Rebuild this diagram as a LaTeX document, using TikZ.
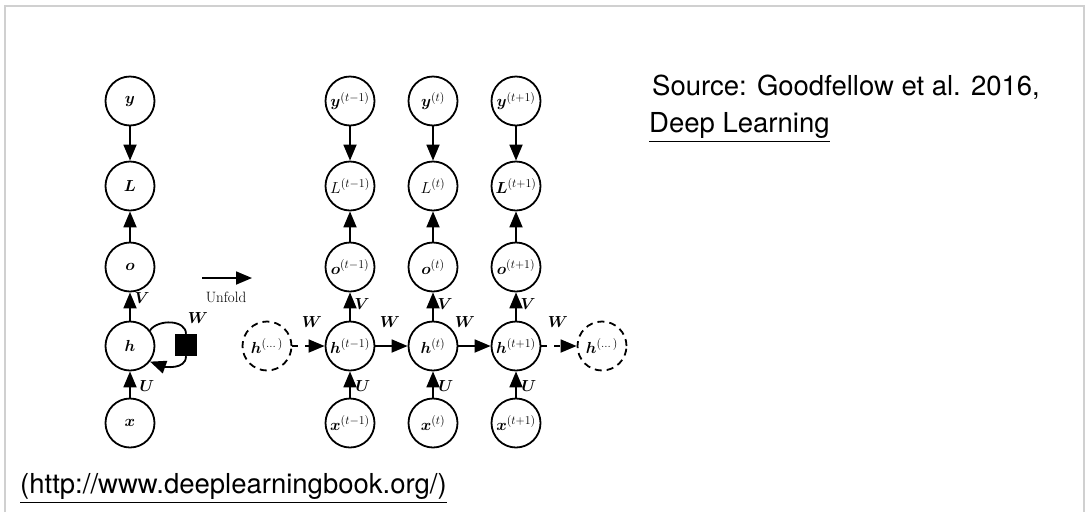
\RequirePackage{fix-cm}
\documentclass[tikz,border=0pt]{standalone}
\usepackage{amsmath,bm}
\usepackage{fontspec}
\newfontfamily\notesans{TeX Gyre Heros}
\usetikzlibrary{arrows.meta}
\DeclareMathSizes{16}{16}{12}{10}

\begin{document}
\begin{tikzpicture}[x=1pt,y=-1pt,
  unit/.style={circle, draw, line width=1.8pt, minimum size=49pt, inner sep=0pt,
               font=\fontsize{16}{18}\selectfont},
  ghost/.style={unit, dash pattern=on 7pt off 5pt},
  link/.style={line width=1.8pt, -{Triangle[length=16pt,width=13pt]}},
  wt/.style={font=\fontsize{16}{18}\selectfont, inner sep=0pt},
  note/.style={font=\notesans\fontsize{27.5}{32}\selectfont, inner sep=0pt, anchor=base west},
]
\useasboundingbox (0,0) rectangle (1086,512);
% open frame
\draw[line width=2pt, color={rgb,255:red,208;green,208;blue,208}]
  (5,512) -- (5,6) -- (1084,6) -- (1084,512);

% folded network
\node[unit] (y)  at (130,101) {$\bm{y}$};
\node[unit] (L)  at (130,186) {$\bm{L}$};
\node[unit] (o)  at (130,267) {$\bm{o}$};
\node[unit] (h)  at (130,346) {$\bm{h}$};
\node[unit] (x)  at (130,423) {$\bm{x}$};
\node[fill=black, minimum size=22pt, inner sep=0pt] (sq) at (186,345) {};

\draw[link] (y) -- (L);
\draw[link] (o) -- (L);
\draw[link] (h) -- (o);
\draw[link] (x) -- (h);
\draw[line width=1.8pt] (h.38) to[out=55,in=90] (sq.north);
\draw[link] (sq.south) to[out=-90,in=-20] (h.-38);
\node[wt] (wloop) at (198,318) {$\bm{W}$};
\node[wt] (vloop) at (142,298) {$\bm{V}$};
\node[wt] (uloop) at (147,386) {$\bm{U}$};

% unfold arrow
\coordinate (ua) at (202,278);
\coordinate (ub) at (252,278);
\draw[link] (ua) -- (ub);
\node[font=\fontsize{15}{17}\selectfont, inner sep=0pt] (unf) at (226,297) {Unfold};

% unrolled network
\foreach \n/\cx/\s/\ls in {1/350/t-1/{L}, 2/433/t/{L}, 3/516/t+1/{\bm{L}}}{
  \node[unit] (y\n) at (\cx,101) {$\bm{y}^{(\s)}$};
  \node[unit] (L\n) at (\cx,186) {$\ls^{(\s)}$};
  \node[unit] (o\n) at (\cx,267) {$\bm{o}^{(\s)}$};
  \node[unit] (h\n) at (\cx,346) {$\bm{h}^{(\s)}$};
  \node[unit] (x\n) at (\cx,423) {$\bm{x}^{(\s)}$};
  \draw[link] (y\n) -- (L\n);
  \draw[link] (o\n) -- (L\n);
  \draw[link] (h\n) -- (o\n);
  \draw[link] (x\n) -- (h\n);
  \node[wt] (v\n) at (\cx+12,304) {$\bm{V}$};
  \node[wt] (u\n) at (\cx+13,386) {$\bm{U}$};
}
\node[ghost] (hl) at (267,346) {$\bm{h}^{(\dots)}$};
\node[ghost] (hr) at (602,346) {$\bm{h}^{(\dots)}$};

\draw[link, dash pattern=on 6pt off 7pt] (hl) -- (h1);
\draw[link] (h1) -- (h2);
\draw[link] (h2) -- (h3);
\draw[link, dash pattern=on 6pt off 7pt] (h3) -- (hr);

\node[wt] (w1) at (312,322) {$\bm{W}$};
\node[wt] (w2) at (390,322) {$\bm{W}$};
\node[wt] (w3) at (465,322) {$\bm{W}$};
\node[wt] (w4) at (558,322) {$\bm{W}$};

% source notes
\node[note] (src) at (652,95) {Source: Goodfellow et al. 2016,};
\node[note] (book) at (649,132) {\underline{Deep Learning}};
\node[note] (url) at (20,493) {\underline{(http://www.deeplearningbook.org/)}};
\end{tikzpicture}
\end{document}
